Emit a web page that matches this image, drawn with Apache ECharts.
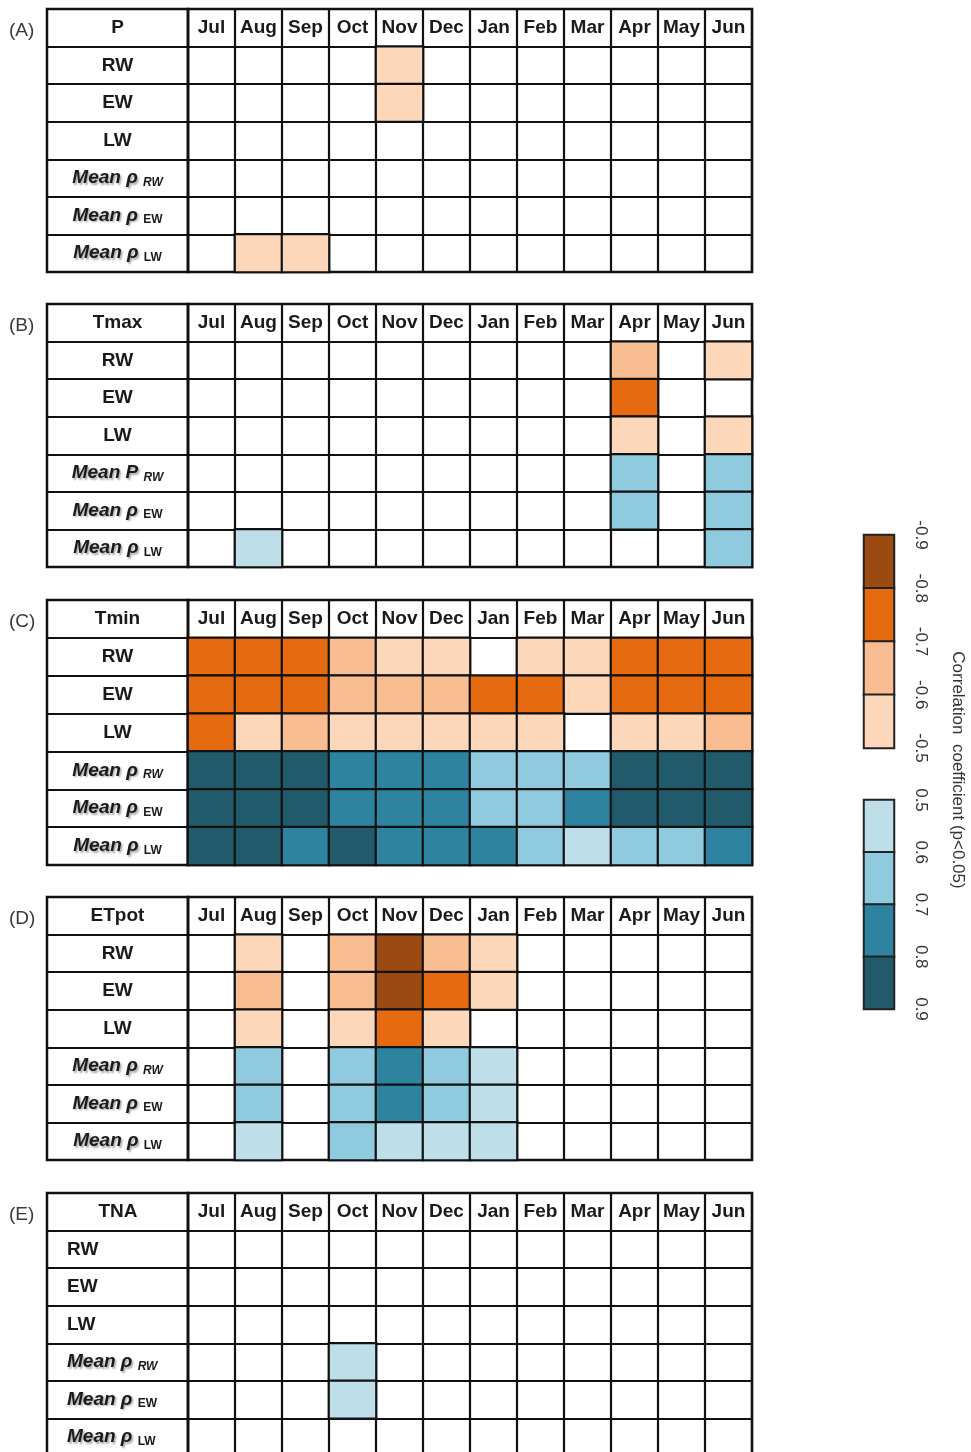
<!DOCTYPE html>
<html>
<head>
<meta charset="utf-8">
<script src="https://cdn.jsdelivr.net/npm/echarts@6/dist/echarts.min.js"></script>
<style>
  html, body { margin: 0; padding: 0; background: #ffffff; overflow: hidden; }
  #chart { width: 971px; height: 1475px; }
</style>
</head>
<body>
<div id="chart"></div>
<script>
// ---- data ---------------------------------------------------------------
const months = ['Jul', 'Aug', 'Sep', 'Oct', 'Nov', 'Dec', 'Jan', 'Feb', 'Mar', 'Apr', 'May', 'Jun'];
const panelTags = ['(A)', '(B)', '(C)', '(D)', '(E)'];
const climateVars = ['P', 'Tmax', 'Tmin', 'ETpot', 'TNA'];
const rowLabels = ['RW', 'EW', 'LW', 'Mean ρ RW', 'Mean ρ EW', 'Mean ρ LW'];
const rowLabelsTmax = ['RW', 'EW', 'LW', 'Mean P RW', 'Mean ρ EW', 'Mean ρ LW'];
const _ = null; // not significant (p >= 0.05)

// rows: RW, EW, LW, Mean ρ RW, Mean ρ EW, Mean ρ LW ; columns: Jul .. Jun
const corrP = [
  [_, _, _, _, -0.55, _, _, _, _, _, _, _],
  [_, _, _, _, -0.55, _, _, _, _, _, _, _],
  [_, _, _, _, _, _, _, _, _, _, _, _],
  [_, _, _, _, _, _, _, _, _, _, _, _],
  [_, _, _, _, _, _, _, _, _, _, _, _],
  [_, -0.55, -0.55, _, _, _, _, _, _, _, _, _]
];
const corrTmax = [
  [_, _, _, _, _, _, _, _, _, -0.65, _, -0.55],
  [_, _, _, _, _, _, _, _, _, -0.75, _, _],
  [_, _, _, _, _, _, _, _, _, -0.55, _, -0.55],
  [_, _, _, _, _, _, _, _, _, 0.65, _, 0.65],
  [_, _, _, _, _, _, _, _, _, 0.65, _, 0.65],
  [_, 0.55, _, _, _, _, _, _, _, _, _, 0.65]
];
const corrTmin = [
  [-0.75, -0.75, -0.75, -0.65, -0.55, -0.55, _, -0.55, -0.55, -0.75, -0.75, -0.75],
  [-0.75, -0.75, -0.75, -0.65, -0.65, -0.65, -0.75, -0.75, -0.55, -0.75, -0.75, -0.75],
  [-0.75, -0.55, -0.65, -0.55, -0.55, -0.55, -0.55, -0.55, _, -0.55, -0.55, -0.65],
  [0.85, 0.85, 0.85, 0.75, 0.75, 0.75, 0.65, 0.65, 0.65, 0.85, 0.85, 0.85],
  [0.85, 0.85, 0.85, 0.75, 0.75, 0.75, 0.65, 0.65, 0.75, 0.85, 0.85, 0.85],
  [0.85, 0.85, 0.75, 0.85, 0.75, 0.75, 0.75, 0.65, 0.55, 0.65, 0.65, 0.75]
];
const corrETpot = [
  [_, -0.55, _, -0.65, -0.85, -0.65, -0.55, _, _, _, _, _],
  [_, -0.65, _, -0.65, -0.85, -0.75, -0.55, _, _, _, _, _],
  [_, -0.55, _, -0.55, -0.75, -0.55, _, _, _, _, _, _],
  [_, 0.65, _, 0.65, 0.75, 0.65, 0.55, _, _, _, _, _],
  [_, 0.65, _, 0.65, 0.75, 0.65, 0.55, _, _, _, _, _],
  [_, 0.55, _, 0.65, 0.55, 0.55, 0.55, _, _, _, _, _]
];
const corrTNA = [
  [_, _, _, _, _, _, _, _, _, _, _, _],
  [_, _, _, _, _, _, _, _, _, _, _, _],
  [_, _, _, _, _, _, _, _, _, _, _, _],
  [_, _, _, 0.55, _, _, _, _, _, _, _, _],
  [_, _, _, 0.55, _, _, _, _, _, _, _, _],
  [_, _, _, _, _, _, _, _, _, _, _, _]
];
const panelData = [corrP, corrTmax, corrTmin, corrETpot, corrTNA];

// colour-bar classes (class mid-points) and tick labels
const legendNegBins = [-0.85, -0.75, -0.65, -0.55];
const legendPosBins = [0.55, 0.65, 0.75, 0.85];
const legendNegTicks = ['-0.9', '-0.8', '-0.7', '-0.6', '-0.5'];
const legendPosTicks = ['0.5', '0.6', '0.7', '0.8', '0.9'];
const legendTitle = 'Correlation  coefficient (p<0.05)';

// ---- layout & style -----------------------------------------------------
const FONT = '"Liberation Sans", Arial, sans-serif';
const LINE = '#111111';
const tableLeft = 47, labelColW = 141, cellsLeft = 188, cellsW = 564;
const panelTops = [9, 304, 600, 897, 1193];
const panelHeights = [263, 263, 265, 263, 263];

const pieces = [
  { min: -0.9, max: -0.8, color: '#9B4A12' },
  { min: -0.8, max: -0.7, color: '#E56A10' },
  { min: -0.7, max: -0.6, color: '#F8BD91' },
  { min: -0.6, max: -0.5, color: '#FCD7B9' },
  { min: 0.5, max: 0.6, color: '#BEDFEA' },
  { min: 0.6, max: 0.7, color: '#8FCADF' },
  { min: 0.7, max: 0.8, color: '#2E84A0' },
  { min: 0.8, max: 0.9, color: '#205A6B' }
];

const richStyles = {
  h: { fontFamily: FONT, fontWeight: 'bold', fontSize: 19, color: '#1a1a1a' },
  hc: { fontFamily: FONT, fontWeight: 'bold', fontSize: 19, color: '#1a1a1a', width: 102, align: 'center' },
  m: {
    fontFamily: FONT, fontWeight: 'bold', fontStyle: 'italic', fontSize: 19, color: '#1a1a1a',
    textShadowColor: 'rgba(0,0,0,0.35)', textShadowBlur: 2, textShadowOffsetX: 1.5, textShadowOffsetY: 1.5
  },
  si: {
    fontFamily: FONT, fontWeight: 'bold', fontStyle: 'italic', fontSize: 12, color: '#1a1a1a',
    verticalAlign: 'bottom', padding: [9, 0, 0, 0]
  },
  su: {
    fontFamily: FONT, fontWeight: 'bold', fontSize: 12, color: '#1a1a1a',
    verticalAlign: 'bottom', padding: [9, 0, 0, 0]
  }
};

function rowLabelFormatter(leftAligned) {
  return function (v, idx) {
    if (idx === 0) return leftAligned ? '{hc|' + v + '}' : '{h|' + v + '}';
    if (v.indexOf('Mean') === 0) {
      const parts = v.split(' ');
      const sub = parts[2];
      return '{m|' + parts[0] + ' ' + parts[1] + ' }{' + (sub === 'RW' ? 'si' : 'su') + '|' + sub + '}';
    }
    return '{h|' + v + '}';
  };
}

const grids = [], xAxes = [], yAxes = [], series = [], graphics = [];
const heatSeriesIdx = [];

panelTops.forEach(function (top, p) {
  const panelH = panelHeights[p];
  const rowH = panelH / 7;
  const leftAligned = (p === 4);
  const labels = (p === 1) ? rowLabelsTmax : rowLabels;
  const yCats = [climateVars[p]].concat(labels);

  // label column
  const gLab = grids.length;
  grids.push({ left: tableLeft, top: top, width: labelColW, height: panelH, show: true,
    borderColor: LINE, borderWidth: 2.5, backgroundColor: '#fff' });
  xAxes.push({ gridIndex: gLab, type: 'category', data: [''], show: false });
  yAxes.push({ gridIndex: gLab, type: 'category', data: yCats, inverse: true,
    axisLine: { show: false }, axisTick: { show: false }, axisLabel: { show: false },
    splitLine: { show: true, interval: 0, lineStyle: { color: LINE, width: 2.2 } } });

  // month cells
  const gCell = grids.length;
  grids.push({ left: cellsLeft, top: top, width: cellsW, height: panelH, show: true,
    borderColor: LINE, borderWidth: 2.5 });
  xAxes.push({ gridIndex: gCell, type: 'category', data: months, position: 'top',
    axisLine: { show: false }, axisTick: { show: false },
    axisLabel: { inside: true, margin: rowH / 2, verticalAlign: 'middle', interval: 0,
      fontFamily: FONT, fontWeight: 'bold', fontSize: 19, color: '#1a1a1a' },
    splitLine: { show: true, interval: 0, lineStyle: { color: LINE, width: 2.2 } } });
  yAxes.push({ gridIndex: gCell, type: 'category', data: yCats, inverse: true,
    axisLine: { show: false }, axisTick: { show: false },
    axisLabel: { interval: 0, margin: leftAligned ? 121 : labelColW / 2, align: leftAligned ? 'left' : 'center',
      formatter: rowLabelFormatter(leftAligned), rich: richStyles },
    splitLine: { show: true, interval: 0, lineStyle: { color: LINE, width: 2.2 } } });

  const cells = [];
  panelData[p].forEach(function (row, r) {
    row.forEach(function (v, c) {
      if (v !== null) cells.push([c, r + 1, v]);
    });
  });
  heatSeriesIdx.push(series.length);
  series.push({ type: 'heatmap', xAxisIndex: gCell, yAxisIndex: gCell, data: cells,
    itemStyle: { borderColor: LINE, borderWidth: 2.2 }, emphasis: { disabled: true }, silent: true });

  graphics.push({ type: 'text', left: 9, top: top + rowH / 2 - 7,
    style: { text: panelTags[p], fontFamily: FONT, fontSize: 19, fill: '#3a3a3a' } });
});

// colour bars
function addColourBar(top, height, bins, ticks) {
  const g = grids.length;
  grids.push({ left: 864, top: top, width: 30, height: height, show: true,
    borderColor: '#3a3a3a', borderWidth: 2 });
  xAxes.push({ gridIndex: g, type: 'category', data: [''], show: false });
  const yCell = yAxes.length;
  yAxes.push({ gridIndex: g, type: 'category', data: bins.map(String), inverse: true,
    axisLine: { show: false }, axisTick: { show: false }, axisLabel: { show: false },
    splitLine: { show: true, interval: 0, lineStyle: { color: '#222', width: 2 } } });
  yAxes.push({ gridIndex: g, type: 'value', min: 0, max: bins.length, interval: 1, inverse: true,
    position: 'right', axisLine: { show: false }, axisTick: { show: false }, splitLine: { show: false },
    axisLabel: { show: true, rotate: -90, margin: 18, fontFamily: FONT, fontSize: 17, color: '#333',
      formatter: function (v) { return ticks[Math.round(v)]; } } });
  heatSeriesIdx.push(series.length);
  series.push({ type: 'heatmap', xAxisIndex: g, yAxisIndex: yCell,
    data: bins.map(function (b, i) { return [0, i, b]; }),
    itemStyle: { borderColor: '#222', borderWidth: 2 }, emphasis: { disabled: true }, silent: true });
}
addColourBar(535, 213, legendNegBins, legendNegTicks);
addColourBar(800, 209, legendPosBins, legendPosTicks);

graphics.push({ type: 'text', x: 958, y: 770, rotation: -Math.PI / 2,
  style: { text: legendTitle, fontFamily: FONT, fontSize: 17, fill: '#333', align: 'center', verticalAlign: 'middle' } });

const chart = echarts.init(document.getElementById('chart'), null, { renderer: 'canvas' });
chart.setOption({
  backgroundColor: '#ffffff',
  animation: false,
  grid: grids,
  xAxis: xAxes,
  yAxis: yAxes,
  visualMap: { type: 'piecewise', show: false, dimension: 2, seriesIndex: heatSeriesIdx, pieces: pieces },
  series: series,
  graphic: graphics
});
</script>
</body>
</html>
